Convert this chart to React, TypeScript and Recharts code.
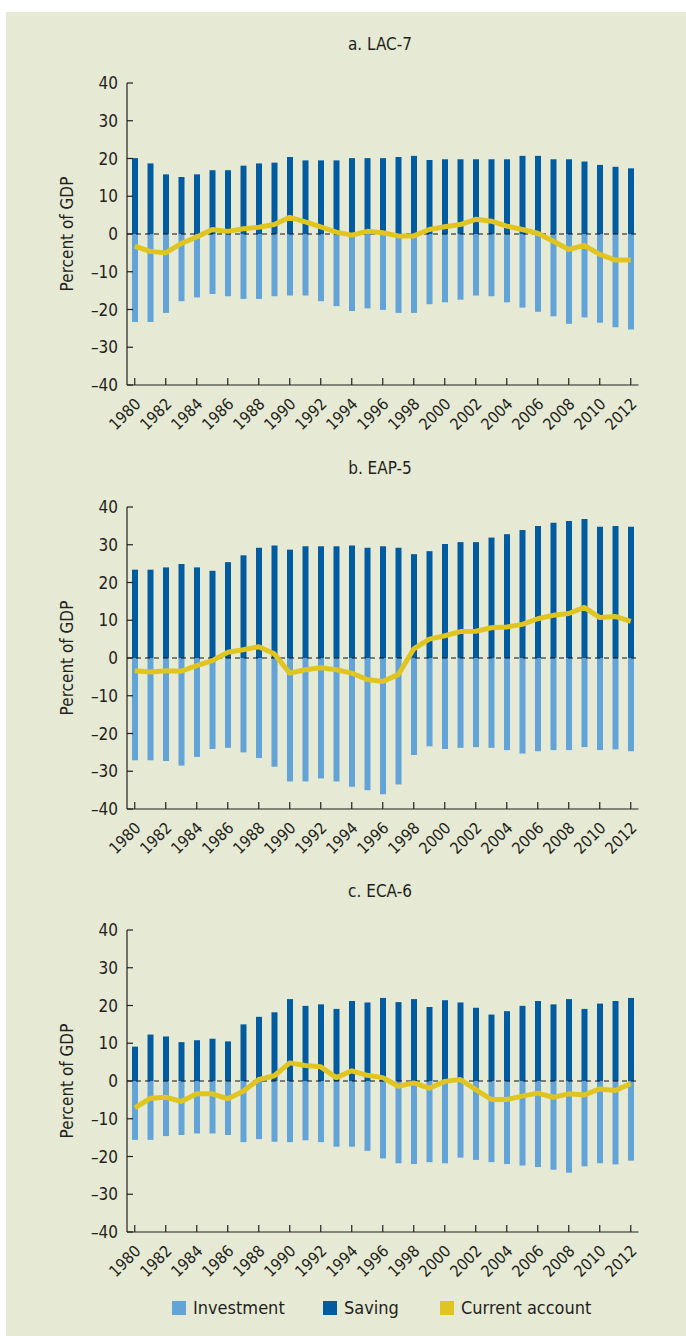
import React from 'react';
import { ComposedChart, Bar, Line, XAxis, YAxis, ReferenceLine } from 'recharts';

const years = [
  '1980', '1981', '1982', '1983', '1984', '1985', '1986', '1987', '1988', '1989', '1990',
  '1991', '1992', '1993', '1994', '1995', '1996', '1997', '1998', '1999', '2000', '2001',
  '2002', '2003', '2004', '2005', '2006', '2007', '2008', '2009', '2010', '2011', '2012',
];

const yTicks = [-40, -30, -20, -10, 0, 10, 20, 30, 40];

// a. LAC-7
const lacSaving = [20.1, 18.7, 15.8, 15.1, 15.8, 16.9, 16.9, 18.1, 18.7, 18.9, 20.4, 19.5, 19.5, 19.5, 20.1, 20.1, 20.1, 20.4, 20.7, 19.6, 19.8, 19.8, 19.8, 19.8, 19.8, 20.7, 20.7, 19.8, 19.8, 19.2, 18.3, 17.8, 17.4];
const lacInvestment = [-23.3, -23.3, -20.9, -17.8, -16.8, -15.9, -16.5, -17.2, -17.2, -16.5, -16.3, -16.3, -17.8, -19.1, -20.4, -19.7, -20.1, -20.9, -20.9, -18.6, -18.1, -17.4, -16.3, -16.5, -18.1, -19.5, -20.6, -21.8, -23.8, -22.1, -23.5, -24.7, -25.3];
const lacCurrent = [-3.2, -4.6, -5.0, -2.5, -0.8, 1.2, 0.7, 1.4, 1.8, 2.5, 4.4, 3.2, 1.9, 0.5, -0.3, 0.7, 0.35, -0.5, -0.5, 1.2, 1.9, 2.5, 3.9, 3.4, 2.1, 1.2, 0.2, -1.9, -4.1, -3.0, -5.4, -6.9, -6.9];

// b. EAP-5
const eapSaving = [23.4, 23.4, 24.0, 24.9, 24.0, 23.1, 25.4, 27.2, 29.2, 29.8, 28.7, 29.6, 29.6, 29.6, 29.8, 29.2, 29.6, 29.2, 27.5, 28.3, 30.2, 30.7, 30.7, 31.9, 32.8, 33.9, 35.0, 35.8, 36.3, 36.8, 34.8, 35.0, 34.8];
const eapInvestment = [-27.1, -27.1, -27.3, -28.5, -26.2, -24.1, -23.8, -25.0, -26.5, -28.8, -32.7, -32.7, -31.9, -32.7, -34.1, -35.0, -36.1, -33.5, -25.7, -23.4, -24.1, -23.8, -23.6, -23.8, -24.4, -25.3, -24.7, -24.4, -24.4, -23.6, -24.4, -24.2, -24.7];
const eapCurrent = [-3.4, -3.7, -3.4, -3.5, -2.0, -0.7, 1.5, 2.2, 3.0, 1.1, -4.0, -3.1, -2.6, -3.1, -4.0, -5.7, -6.2, -4.4, 2.4, 5.0, 5.9, 7.0, 7.1, 8.0, 8.2, 8.9, 10.4, 11.3, 11.8, 13.4, 10.7, 11.0, 9.7];

// c. ECA-6
const ecaSaving = [9.1, 12.3, 11.8, 10.3, 10.8, 11.2, 10.5, 15.0, 17.0, 18.2, 21.7, 19.9, 20.3, 19.1, 21.2, 20.8, 22.0, 20.9, 21.7, 19.6, 21.4, 20.8, 19.4, 17.6, 18.5, 19.9, 21.2, 20.3, 21.7, 19.1, 20.5, 21.2, 22.0];
const ecaInvestment = [-15.6, -15.6, -14.6, -14.3, -13.9, -13.9, -14.3, -16.2, -15.4, -16.1, -16.2, -15.7, -16.2, -17.4, -17.4, -18.5, -20.5, -21.8, -22.0, -21.5, -21.8, -20.3, -20.9, -21.5, -22.0, -22.4, -22.8, -23.5, -24.3, -22.6, -21.8, -22.1, -21.1];
const ecaCurrent = [-7.1, -4.6, -4.3, -5.4, -3.4, -3.4, -4.7, -2.7, 0.4, 1.4, 4.8, 4.1, 3.75, 0.9, 2.7, 1.5, 0.9, -1.4, -0.5, -1.9, -0.1, 0.4, -2.3, -4.9, -4.9, -4.0, -3.2, -4.3, -3.4, -3.7, -2.1, -2.5, -0.7];

const panels = [
  { title: 'a. LAC-7', saving: lacSaving, investment: lacInvestment, current: lacCurrent, top: 0 },
  { title: 'b. EAP-5', saving: eapSaving, investment: eapInvestment, current: eapCurrent, top: 424 },
  { title: 'c. ECA-6', saving: ecaSaving, investment: ecaInvestment, current: ecaCurrent, top: 847 },
];

const FONT = "'Liberation Sans Narrow', 'DejaVu Sans Condensed', 'Open Sans', sans-serif";
const TEXT = '#231F20';
const BG = '#E6EAD4';
const C_INV = '#62A3D8';
const C_SAV = '#005BA1';
const C_CA = '#E0C520';

const fmtY = (v: number) => (v < 0 ? '\u2013' + Math.abs(v) : String(v));

const YearTick = (props: any) => {
  const { x, y, payload } = props;
  const px = x + 7;
  const py = y + 1;
  return (
    <text x={px} y={py} transform={`rotate(-45, ${px}, ${py})`} textAnchor="end" fontSize={16} fill={TEXT} fontFamily={FONT}>
      {payload.value}
    </text>
  );
};

const YLabel = (props: any) => {
  const vb = props.viewBox || {};
  const cy = (vb.y || 0) + (vb.height || 0) / 2;
  const cx = 67;
  return (
    <text x={cx} y={cy} transform={`rotate(-90, ${cx}, ${cy})`} textAnchor="middle" dominantBaseline="central" fontSize={17} fill={TEXT} fontFamily={FONT}>
      Percent of GDP
    </text>
  );
};

const Panel = ({ title, saving, investment, current, top }: any) => {
  const data = years.map((year, i) => ({ year, saving: saving[i], investment: investment[i], current: current[i] }));
  return (
    <div style={{ position: 'absolute', left: 0, top, width: 686, height: 440 }}>
      <div style={{ position: 'absolute', left: 280, width: 200, top: 34, textAlign: 'center', fontFamily: FONT, fontSize: 17, color: TEXT, lineHeight: '20px' }}>
        {title}
      </div>
      <ComposedChart width={686} height={440} data={data} stackOffset="sign" margin={{ top: 83, right: 47.5, bottom: 0, left: 0 }} barSize={6}>
        <XAxis dataKey="year" interval={1} tickSize={-7} tickMargin={26} tick={<YearTick />} axisLine={{ stroke: '#231F20', strokeWidth: 1.2 }} tickLine={{ stroke: '#231F20', strokeWidth: 1.2 }} height={55} />
        <YAxis type="number" domain={[-40, 40]} ticks={yTicks} interval={0} width={127} tickSize={-6} tickMargin={15} tickFormatter={fmtY} tick={{ fontSize: 17, fill: TEXT, fontFamily: FONT }} axisLine={{ stroke: '#231F20', strokeWidth: 1.2 }} tickLine={{ stroke: '#231F20', strokeWidth: 1.2 }} label={<YLabel />} />
        <Bar dataKey="investment" stackId="s" fill={C_INV} isAnimationActive={false} />
        <Bar dataKey="saving" stackId="s" fill={C_SAV} isAnimationActive={false} />
        <ReferenceLine y={0} stroke="#111" strokeWidth={1.2} strokeDasharray="5 4" />
        <Line dataKey="current" type="linear" stroke={C_CA} strokeWidth={5} dot={false} activeDot={false} isAnimationActive={false} strokeLinejoin="round" />
      </ComposedChart>
    </div>
  );
};

const LegendItem = ({ color, label, left }: any) => (
  <div style={{ position: 'absolute', left, top: 0, display: 'flex', alignItems: 'center', height: 20 }}>
    <div style={{ width: 14, height: 14, background: color, marginRight: 7 }} />
    <span style={{ fontFamily: FONT, fontSize: 18, color: TEXT, lineHeight: '20px' }}>{label}</span>
  </div>
);

export default function App() {
  return (
    <div style={{ position: 'absolute', left: 0, top: 0, width: 686, height: 1336, background: '#fff', overflow: 'hidden' }}>
      <div style={{ position: 'absolute', left: 6, top: 12, width: 680, height: 1324, background: BG }} />
      {panels.map((p) => (
        <Panel key={p.title} {...p} />
      ))}
      <div style={{ position: 'absolute', left: 0, top: 1298, width: 686, height: 20 }}>
        <LegendItem color={C_INV} label="Investment" left={172} />
        <LegendItem color={C_SAV} label="Saving" left={323} />
        <LegendItem color={C_CA} label="Current account" left={440} />
      </div>
    </div>
  );
}
